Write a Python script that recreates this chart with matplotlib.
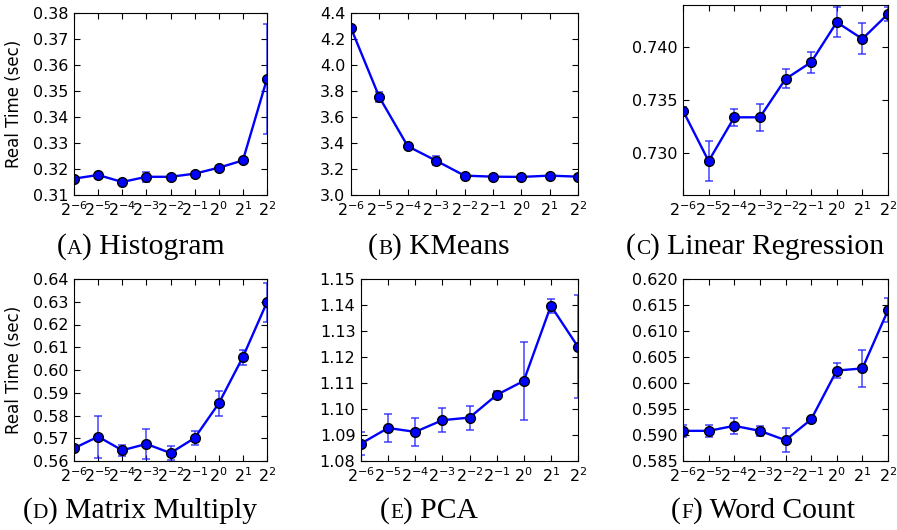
import numpy as np
import matplotlib
matplotlib.use("Agg")
import matplotlib.pyplot as plt
from matplotlib.offsetbox import TextArea, HPacker, AnnotationBbox

# x axis: powers of two
exponents = [-6, -5, -4, -3, -2, -1, 0, 1, 2]

hist_y = [0.3163, 0.3177, 0.3150, 0.3170, 0.3170, 0.3182, 0.3205, 0.3233, 0.3547]
hist_err = [0.0008, 0.0008, 0.0007, 0.0019, 0.0008, 0.0007, 0.0008, 0.0008, 0.0211]

kmeans_y = [4.284, 3.752, 3.375, 3.264, 3.149, 3.141, 3.139, 3.149, 3.141]
kmeans_err = [0.010, 0.038, 0.015, 0.036, 0.010, 0.010, 0.010, 0.010, 0.010]

linreg_y = [0.73399, 0.72921, 0.73336, 0.73336, 0.73699, 0.73858, 0.74237, 0.74079, 0.74315]
linreg_err = [0.0003, 0.0019, 0.0008, 0.0013, 0.0009, 0.0010, 0.0014, 0.00146, 0.0007]

matmul_y = [0.5656, 0.5707, 0.5647, 0.5675, 0.5635, 0.5701, 0.5853, 0.6057, 0.6298]
matmul_err = [0.0015, 0.0093, 0.0025, 0.0065, 0.0030, 0.0032, 0.0054, 0.0033, 0.0086]

pca_y = [1.0867, 1.0927, 1.0912, 1.0957, 1.0967, 1.1054, 1.1108, 1.1397, 1.1239]
pca_err = [0.0045, 0.0053, 0.0053, 0.0045, 0.0046, 0.0017, 0.0150, 0.0027, 0.0198]

wc_y = [0.5908, 0.5908, 0.59176, 0.5908, 0.5890, 0.5930, 0.6024, 0.6028, 0.6140]
wc_err = [0.0011, 0.0011, 0.0015, 0.0010, 0.0023, 0.0003, 0.0015, 0.0036, 0.0023]

hist_ticks = [0.31, 0.32, 0.33, 0.34, 0.35, 0.36, 0.37, 0.38]
kmeans_ticks = [3.0, 3.2, 3.4, 3.6, 3.8, 4.0, 4.2, 4.4]
linreg_ticks = [0.730, 0.735, 0.740]
matmul_ticks = [0.56, 0.57, 0.58, 0.59, 0.60, 0.61, 0.62, 0.63, 0.64]
pca_ticks = [1.08, 1.09, 1.10, 1.11, 1.12, 1.13, 1.14, 1.15]
wc_ticks = [0.585, 0.590, 0.595, 0.600, 0.605, 0.610, 0.615, 0.620]

plt.rcParams.update({
    'font.size': 11.5,
    'xtick.direction': 'in', 'ytick.direction': 'in',
    'xtick.top': True, 'ytick.right': True,
    'xtick.major.size': 4, 'ytick.major.size': 4,
    'xtick.major.pad': 4, 'ytick.major.pad': 4,
    'axes.formatter.useoffset': False,
})

fig = plt.figure(figsize=(8.97, 5.30), dpi=100)

W, H = 897.0, 530.0

def add_axes(left, top, right, bottom):
    return fig.add_axes([left / W, 1 - bottom / H, (right - left) / W, (bottom - top) / H])

panels = [
    # (left, top, right, bottom), y, err, ylim, ticks, ylabel, caption letter, name, caption center x, caption y
    ((74, 13, 267, 195), hist_y, hist_err, (0.31, 0.38), hist_ticks, True, 'A', 'Histogram', 141, 247),
    ((351, 13, 578, 195), kmeans_y, kmeans_err, (3.0, 4.4), kmeans_ticks, False, 'B', 'KMeans', 439, 247),
    ((683, 5, 888, 195), linreg_y, linreg_err, (0.726, 0.744), linreg_ticks, False, 'C', 'Linear Regression', 755, 247),
    ((74, 279, 267, 461), matmul_y, matmul_err, (0.56, 0.64), matmul_ticks, True, 'D', 'Matrix Multiply', 140, 511),
    ((361, 279, 578, 461), pca_y, pca_err, (1.08, 1.15), pca_ticks, False, 'E', 'PCA', 429, 511),
    ((683, 279, 888, 461), wc_y, wc_err, (0.585, 0.620), wc_ticks, False, 'F', 'Word Count', 763, 511),
]

xs = [2.0 ** e for e in exponents]
cap_size = 21.3

for box, y, err, ylim, ticks, ylab, letter, name, cx, cy in panels:
    ax = add_axes(*box)
    ax.errorbar(xs, y, yerr=err, fmt='-o', color='b', mfc='b', mec='k',
                ms=7, lw=1.7, ecolor=(0.1, 0.1, 1.0, 0.75), elinewidth=1.2,
                capsize=3, capthick=1.2)
    ax.set_xscale('log', base=2)
    ax.set_xlim(xs[0], xs[-1])
    ax.set_xticks(xs)
    ax.set_xticklabels([r'$2^{%d}$' % e for e in exponents])
    ax.minorticks_off()
    ax.set_ylim(*ylim)
    ax.set_yticks(ticks)
    if ylab:
        ax.set_ylabel('Real Time (sec)', fontsize=12, labelpad=7)

    parts = [TextArea('(', textprops=dict(family='Liberation Serif', size=cap_size)),
             TextArea(letter, textprops=dict(family='Liberation Serif', size=cap_size * 0.72)),
             TextArea(') ' + name, textprops=dict(family='Liberation Serif', size=cap_size))]
    pack = HPacker(children=parts, align='baseline', pad=0, sep=0)
    ab = AnnotationBbox(pack, (cx / W, 1 - cy / H), xycoords='figure fraction',
                        box_alignment=(0.5, 0.5), frameon=False, pad=0)
    fig.add_artist(ab)

fig.savefig('out.png', dpi=100)
